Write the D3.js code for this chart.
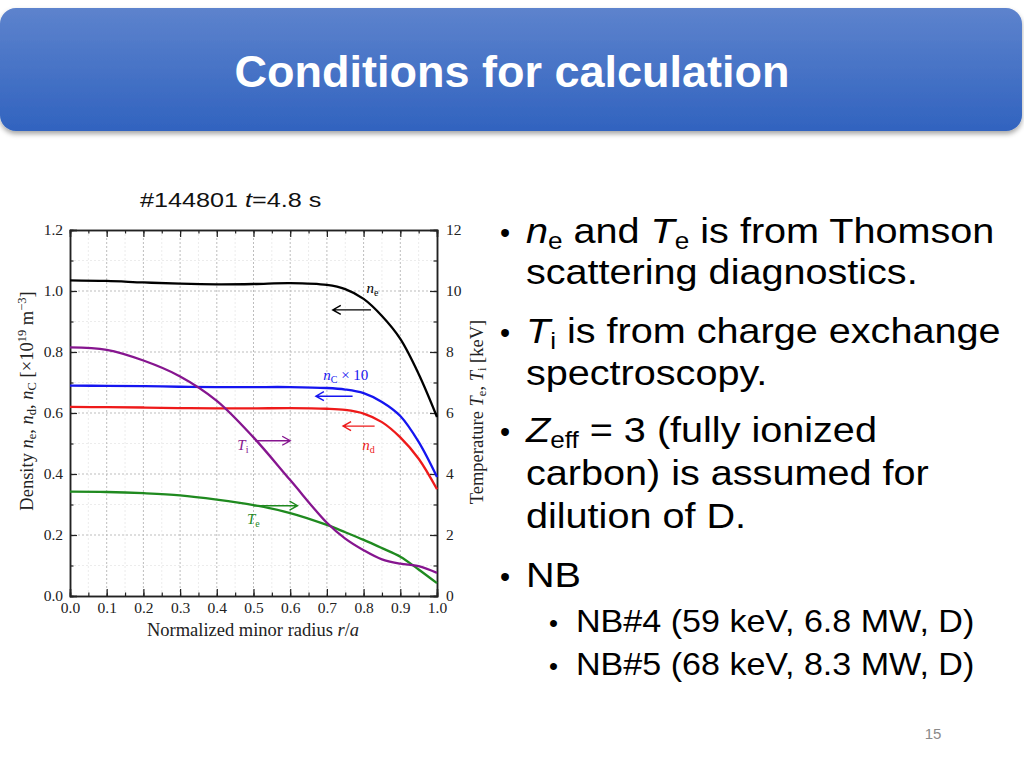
<!DOCTYPE html>
<html>
<head>
<meta charset="utf-8">
<script src="https://cdn.jsdelivr.net/npm/d3@7"></script>
<style>
  body { margin: 0; background: #fff; }
  svg { display: block; }
  .serif { font-family: "Liberation Serif", "Times New Roman", serif; }
  .sans { font-family: "Liberation Sans", Arial, sans-serif; }
</style>
</head>
<body>
<script>
// radius grid shared by all profiles
const radius = [0, 0.1, 0.2, 0.3, 0.4, 0.5, 0.6, 0.7, 0.75, 0.8, 0.85, 0.9, 0.95, 1.0];

// densities, left axis [1e19 m^-3]
const ne = [1.035, 1.033, 1.028, 1.024, 1.022, 1.023, 1.026, 1.02, 1.006, 0.974, 0.918, 0.843, 0.728, 0.587];
const nC10 = [0.69, 0.689, 0.688, 0.686, 0.685, 0.685, 0.685, 0.682, 0.677, 0.665, 0.636, 0.59, 0.505, 0.39];
const nd = [0.62, 0.619, 0.618, 0.616, 0.615, 0.615, 0.616, 0.614, 0.61, 0.598, 0.57, 0.52, 0.45, 0.35];

// temperatures, right axis [keV]
const Ti = [8.15, 8.07, 7.72, 7.2, 6.4, 5.2, 3.8, 2.4, 1.88, 1.5, 1.2, 1.06, 0.98, 0.76];
const Te = [3.42, 3.41, 3.37, 3.3, 3.16, 2.98, 2.72, 2.33, 2.09, 1.84, 1.57, 1.29, 0.87, 0.42];

const xTicks = [0, 0.1, 0.2, 0.3, 0.4, 0.5, 0.6, 0.7, 0.8, 0.9, 1.0];
const leftTicks = [0, 0.2, 0.4, 0.6, 0.8, 1.0, 1.2];
const rightTicks = [0, 2, 4, 6, 8, 10, 12];

const W = 1024, H = 768;
const svg = d3.select('body').append('svg').attr('width', W).attr('height', H);

// ---- header bar
const defs = svg.append('defs');
const grad = defs.append('linearGradient').attr('id', 'hdr').attr('x1', 0).attr('y1', 0).attr('x2', 0).attr('y2', 1);
grad.append('stop').attr('offset', '0%').attr('stop-color', '#5d83cd');
grad.append('stop').attr('offset', '100%').attr('stop-color', '#3163bf');
const sh = defs.append('filter').attr('id', 'shadow').attr('x', '-5%').attr('y', '-10%').attr('width', '110%').attr('height', '130%');
sh.append('feDropShadow').attr('dx', 0).attr('dy', 3).attr('stdDeviation', 2.5).attr('flood-color', '#000').attr('flood-opacity', 0.35);

svg.append('rect')
  .attr('x', 0).attr('y', 8).attr('width', 1022).attr('height', 123)
  .attr('rx', 16).attr('fill', 'url(#hdr)').attr('filter', 'url(#shadow)');

svg.append('text').attr('class', 'sans')
  .attr('x', 512).attr('y', 87).attr('text-anchor', 'middle')
  .attr('fill', '#fff').attr('font-weight', 'bold').attr('font-size', 45)
  .text('Conditions for calculation');

// ---- chart
const x = d3.scaleLinear().domain([0, 1]).range([70, 437]);
const yL = d3.scaleLinear().domain([0, 1.2]).range([596, 230]);
const yR = d3.scaleLinear().domain([0, 12]).range([596, 230]);

const chart = svg.append('g');

// grid
const minorX = d3.range(0.05, 1, 0.1);
const minorY = d3.range(0.1, 1.2, 0.2);
chart.append('g').selectAll('line').data(minorX).join('line')
  .attr('x1', d => x(d)).attr('x2', d => x(d)).attr('y1', yL(0)).attr('y2', yL(1.2))
  .attr('stroke', '#ececec').attr('stroke-dasharray', '2,2');
chart.append('g').selectAll('line').data(minorY).join('line')
  .attr('y1', d => yL(d)).attr('y2', d => yL(d)).attr('x1', x(0)).attr('x2', x(1))
  .attr('stroke', '#ececec').attr('stroke-dasharray', '2,2');
chart.append('g').selectAll('line').data(xTicks.slice(1, -1)).join('line')
  .attr('x1', d => x(d)).attr('x2', d => x(d)).attr('y1', yL(0)).attr('y2', yL(1.2))
  .attr('stroke', '#bdbdbd').attr('stroke-dasharray', '2,2');
chart.append('g').selectAll('line').data(leftTicks.slice(1, -1)).join('line')
  .attr('y1', d => yL(d)).attr('y2', d => yL(d)).attr('x1', x(0)).attr('x2', x(1))
  .attr('stroke', '#bdbdbd').attr('stroke-dasharray', '2,2');

// axes (ticks point inward)
function styleAxis(g) {
  g.selectAll('.domain').attr('stroke', '#222').attr('stroke-width', 1.5);
  g.selectAll('.tick line').attr('stroke', '#222').attr('stroke-width', 1.2);
  g.selectAll('.tick text').attr('class', 'serif').attr('font-size', 15.5).attr('fill', '#222');
}
const minorXAll = d3.range(0, 1.0001, 0.05);
const minorYAll = d3.range(0, 1.2001, 0.1);

chart.append('g').attr('transform', `translate(0,${yL(0)})`)
  .call(d3.axisBottom(x).tickValues(minorXAll).tickSize(-3.5).tickFormat(''))
  .call(styleAxis);
chart.append('g').attr('transform', `translate(0,${yL(0)})`)
  .call(d3.axisBottom(x).tickValues(xTicks).tickSize(-7).tickPadding(6).tickFormat(d3.format('.1f')))
  .call(styleAxis);
chart.append('g').attr('transform', `translate(0,${yL(1.2)})`)
  .call(d3.axisTop(x).tickValues(minorXAll).tickSize(-3.5).tickFormat(''))
  .call(styleAxis);
chart.append('g').attr('transform', `translate(0,${yL(1.2)})`)
  .call(d3.axisTop(x).tickValues(xTicks).tickSize(-7).tickFormat(''))
  .call(styleAxis);

chart.append('g').attr('transform', `translate(${x(0)},0)`)
  .call(d3.axisLeft(yL).tickValues(minorYAll).tickSize(-3.5).tickFormat(''))
  .call(styleAxis);
chart.append('g').attr('transform', `translate(${x(0)},0)`)
  .call(d3.axisLeft(yL).tickValues(leftTicks).tickSize(-7).tickPadding(7).tickFormat(d3.format('.1f')))
  .call(styleAxis);
chart.append('g').attr('transform', `translate(${x(1)},0)`)
  .call(d3.axisRight(yR).tickValues(d3.range(0, 12.001, 1)).tickSize(-3.5).tickFormat(''))
  .call(styleAxis);
chart.append('g').attr('transform', `translate(${x(1)},0)`)
  .call(d3.axisRight(yR).tickValues(rightTicks).tickSize(-7).tickPadding(9).tickFormat(d3.format('d')))
  .call(styleAxis);

// profiles
const series = [
  { values: ne, scale: yL, color: '#000000' },
  { values: nC10, scale: yL, color: '#1515f0' },
  { values: nd, scale: yL, color: '#ee1a1a' },
  { values: Te, scale: yR, color: '#1f8a1f' },
  { values: Ti, scale: yR, color: '#86158f' }
];
series.forEach(s => {
  const line = d3.line().x((d, i) => x(radius[i])).y(d => s.scale(d)).curve(d3.curveCatmullRom.alpha(0.5));
  chart.append('path').attr('d', line(s.values))
    .attr('fill', 'none').attr('stroke', s.color).attr('stroke-width', 2.3);
});

// annotations: label + arrow toward the axis the curve belongs to
const notes = [
  { label: ['n', 'e'], lx: 0.808, ly: 0.995, ax0: 0.82, ax1: 0.716, ay: 0.938, scale: yL, color: '#000000' },
  { label: ['n', 'C', ' × 10'], lx: 0.69, ly: 0.708, ax0: 0.77, ax1: 0.67, ay: 0.655, scale: yL, color: '#1515f0' },
  { label: ['n', 'd'], lx: 0.796, ly: 0.48, ax0: 0.83, ax1: 0.744, ay: 0.557, scale: yL, color: '#ee1a1a' },
  { label: ['T', 'i'], lx: 0.456, ly: 4.8, ax0: 0.504, ax1: 0.6, ay: 5.09, scale: yR, color: '#86158f' },
  { label: ['T', 'e'], lx: 0.482, ly: 2.35, ax0: 0.5, ax1: 0.62, ay: 2.96, scale: yR, color: '#1f8a1f' }
];
notes.forEach(n => {
  const t = chart.append('text').attr('class', 'serif')
    .attr('x', x(n.lx)).attr('y', n.scale(n.ly))
    .attr('fill', n.color).attr('font-size', 15);
  t.append('tspan').attr('font-style', 'italic').text(n.label[0]);
  t.append('tspan').attr('font-size', 10).attr('dy', 3).text(n.label[1]);
  if (n.label[2]) t.append('tspan').attr('dy', -3).text(n.label[2]);

  const x0 = x(n.ax0), x1 = x(n.ax1), y = n.scale(n.ay);
  const dir = x1 < x0 ? 1 : -1;
  chart.append('path')
    .attr('d', `M${x0},${y}L${x1},${y}M${x1 + dir * 8},${y - 4.5}L${x1},${y}L${x1 + dir * 8},${y + 4.5}`)
    .attr('fill', 'none').attr('stroke', n.color).attr('stroke-width', 1.4);
});

// axis titles
const lt = chart.append('text').attr('class', 'serif').attr('font-size', 18.5).attr('fill', '#222')
  .attr('text-anchor', 'middle').attr('transform', 'translate(33,401) rotate(-90)');
lt.append('tspan').text('Density ');
lt.append('tspan').attr('font-style', 'italic').text('n');
lt.append('tspan').attr('font-size', 12.5).attr('dy', 3).text('e');
lt.append('tspan').attr('dy', -3).text(', ');
lt.append('tspan').attr('font-style', 'italic').text('n');
lt.append('tspan').attr('font-size', 12.5).attr('dy', 3).text('d');
lt.append('tspan').attr('dy', -3).text(', ');
lt.append('tspan').attr('font-style', 'italic').text('n');
lt.append('tspan').attr('font-size', 12.5).attr('dy', 3).text('C');
lt.append('tspan').attr('dy', -3).text(' [×10');
lt.append('tspan').attr('font-size', 12.5).attr('dy', -7).text('19');
lt.append('tspan').attr('dy', 7).text(' m');
lt.append('tspan').attr('font-size', 12.5).attr('dy', -7).text('−3');
lt.append('tspan').attr('dy', 7).text(']');

const rt = chart.append('text').attr('class', 'serif').attr('font-size', 18.5).attr('fill', '#222')
  .attr('text-anchor', 'middle').attr('transform', 'translate(483,412) rotate(-90)');
rt.append('tspan').text('Temperature ');
rt.append('tspan').attr('font-style', 'italic').text('T');
rt.append('tspan').attr('font-size', 12.5).attr('dy', 3).text('e');
rt.append('tspan').attr('dy', -3).text(', ');
rt.append('tspan').attr('font-style', 'italic').text('T');
rt.append('tspan').attr('font-size', 12.5).attr('dy', 3).text('i');
rt.append('tspan').attr('dy', -3).text(' [keV]');

const xt = chart.append('text').attr('class', 'serif').attr('font-size', 18.5).attr('fill', '#222')
  .attr('text-anchor', 'middle').attr('x', 253).attr('y', 636);
xt.append('tspan').text('Normalized minor radius ');
xt.append('tspan').attr('font-style', 'italic').text('r');
xt.append('tspan').text('/');
xt.append('tspan').attr('font-style', 'italic').text('a');

const ct = svg.append('text').attr('class', 'sans').attr('font-size', 21).attr('fill', '#111')
  .attr('x', 140).attr('y', 207)
  .attr('transform', 'translate(140,0) scale(1.2,1) translate(-140,0)');
ct.append('tspan').text('#144801 ');
ct.append('tspan').attr('font-style', 'italic').text('t');
ct.append('tspan').text('=4.8 s');

// ---- bullet text (slide text is slightly wider than the font's natural width)
const body = svg.append('g').attr('class', 'sans').attr('fill', '#000');
function stretch(sel, x0, k) {
  sel.attr('transform', `translate(${x0},0) scale(${k},1) translate(${-x0},0)`);
}
function bullet(xb, xt0, y, size, k, parts) {
  body.append('text').attr('x', xb).attr('y', y).attr('font-size', size * 0.8).text('•');
  const t = body.append('text').attr('x', xt0).attr('y', y).attr('font-size', size);
  stretch(t, xt0, k);
  parts.forEach(p => {
    const s = t.append('tspan').text(p.t);
    if (p.i) s.attr('font-style', 'italic');
    if (p.sub) s.attr('font-size', size * 0.66).attr('dy', 6);
    if (p.up) s.attr('dy', -6);
  });
}
function line(x0, y, size, k, txt) {
  const t = body.append('text').attr('x', x0).attr('y', y).attr('font-size', size).text(txt);
  stretch(t, x0, k);
}
const K = 1.1, KS = 1.065;
bullet(500, 526, 243, 36, K, [{ t: 'n', i: true }, { t: 'e', sub: true }, { t: ' and ', up: true }, { t: 'T', i: true }, { t: 'e', sub: true }, { t: ' is from Thomson', up: true }]);
line(526, 284, 36, K, 'scattering diagnostics.');
bullet(500, 526, 343, 36, K, [{ t: 'T', i: true }, { t: 'i', sub: true }, { t: ' is from charge exchange', up: true }]);
line(526, 385, 36, K, 'spectroscopy.');
bullet(500, 526, 442, 36, K, [{ t: 'Z', i: true }, { t: 'eff', sub: true }, { t: ' = 3 (fully ionized', up: true }]);
line(526, 485, 36, K, 'carbon) is assumed for');
line(526, 528, 36, K, 'dilution of D.');
bullet(500, 526, 587, 36, K, [{ t: 'NB' }]);
bullet(549, 576, 632, 32, KS, [{ t: 'NB#4 (59 keV, 6.8 MW, D)' }]);
bullet(549, 576, 675, 32, KS, [{ t: 'NB#5 (68 keV, 8.3 MW, D)' }]);

svg.append('text').attr('class', 'sans').attr('x', 933).attr('y', 739)
  .attr('text-anchor', 'middle').attr('font-size', 15).attr('fill', '#8a8a8a').text('15');
</script>
</body>
</html>
